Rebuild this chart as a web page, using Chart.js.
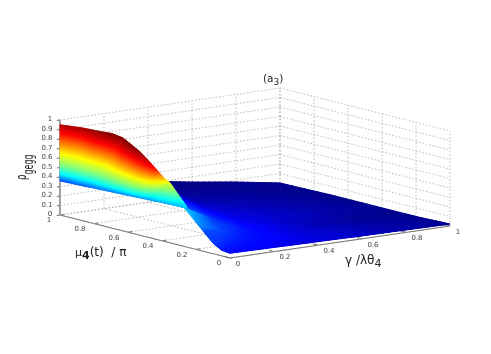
<!DOCTYPE html>
<html>
<head>
<meta charset="utf-8">
<style>
  html, body { margin: 0; padding: 0; background: #fff; }
  canvas { display: block; filter: blur(0.4px); }
</style>
<script src="https://cdn.jsdelivr.net/npm/chart.js@4"></script>
</head>
<body>
<canvas id="surfaceChart" width="491" height="354"></canvas>
<script>
//------------------------------------------------------
// DATA
//------------------------------------------------------
var gammaTicks = [0, 0.2, 0.4, 0.6, 0.8, 1];
var muTicks = [0, 0.2, 0.4, 0.6, 0.8, 1];
var rhoTicks = [0, 0.1, 0.2, 0.3, 0.4, 0.5, 0.6, 0.7, 0.8, 0.9, 1];

// steep front sheet: one rib per mu, from the gamma=0 edge up to the ridge
var sheetMu = [1, 0.931, 0.857, 0.83, 0.796, 0.74, 0.68, 0.62, 0.56, 0.51, 0.465, 0.37, 0.27];
var ridgeGamma = [0, 0.051, 0.085, 0.105, 0.129, 0.122, 0.117, 0.111, 0.1, 0.094, 0.087, 0.054, 0.013];
var ridgeRho = [0.95, 0.93, 0.91, 0.9, 0.86, 0.82, 0.77, 0.7, 0.64, 0.58, 0.55, 0.47, 0.41];
var ridgeShade = [0.95, 0.96, 0.99, 1, 1, 1, 0.98, 0.93, 0.85, 0.72, 0.62, 0.5, 0.41];
var edgeRho = [0.358, 0.363, 0.367, 0.37, 0.374, 0.377, 0.381, 0.385, 0.39, 0.394, 0.397, 0.404, 0.41];

// the low part of the surface
var plateGamma = [0, 0.1, 0.2, 0.3, 0.45, 0.6, 0.8, 1];
var plateMu = [1, 0.7, 0.45, 0.27, 0.18, 0.1, 0.05, 0];
var plateRho = [
  [0.38, 0.38, 0.35, 0.3, 0.2, 0.145, 0.078, 0],
  [0.42, 0.42, 0.4, 0.3, 0.2, 0.12, 0.05, 0.01],
  [0.43, 0.43, 0.3, 0.2, 0.1, 0.04, 0.02, 0.01],
  [0.41, 0.28, 0.14, 0.09, 0.05, 0.03, 0.015, 0.01],
  [0.25, 0.17, 0.1, 0.07, 0.04, 0.03, 0.02, 0.01],
  [0.11, 0.09, 0.07, 0.05, 0.04, 0.03, 0.02, 0.015],
  [0.06, 0.06, 0.055, 0.05, 0.04, 0.03, 0.025, 0.018],
  [0.05, 0.047, 0.044, 0.04, 0.036, 0.03, 0.026, 0.02]
];
var plateShade = [
  [0, 0, 0, 0, 0, 0, 0.01, 0.01],
  [0.1, 0.05, 0.02, 0.01, 0.02, 0.03, 0.025, 0.01],
  [0.3, 0.1, 0.06, 0.08, 0.085, 0.07, 0.04, 0.015],
  [0.42, 0.37, 0.3, 0.14, 0.09, 0.05, 0.02, 0.01],
  [0.39, 0.36, 0.2, 0.13, 0.09, 0.06, 0.03, 0.015],
  [0.33, 0.2, 0.14, 0.125, 0.09, 0.07, 0.035, 0.02],
  [0.18, 0.15, 0.13, 0.11, 0.09, 0.07, 0.04, 0.02],
  [0.13, 0.12, 0.11, 0.1, 0.085, 0.065, 0.04, 0.02]
];

// colour scale (value, r, g, b)
var colorValues = [0, 0.125, 0.36, 0.44, 0.53, 0.65, 0.76, 0.87, 1];
var colorRed = [0, 0, 0, 0, 128, 255, 255, 255, 128];
var colorGreen = [0, 0, 70, 255, 255, 255, 128, 0, 0];
var colorBlue = [130, 255, 255, 255, 128, 0, 0, 0, 0];

//------------------------------------------------------
// VIEW (axonometric camera of the 3D box)
//------------------------------------------------------
function viewPoint(g, m, r) {
  return { x: 230 + 220 * g - 170 * m, y: 258 - 32 * g - 43 * m - 95 * r };
}

function shadeColor(v) {
  var i = 0;
  if (v >= colorValues[colorValues.length - 1]) i = colorValues.length - 2;
  else while (i < colorValues.length - 2 && v > colorValues[i + 1]) i++;
  var t = (v - colorValues[i]) / (colorValues[i + 1] - colorValues[i]);
  t = Math.max(0, Math.min(1, t));
  var c = function (a) { return Math.round(a[i] + (a[i + 1] - a[i]) * t); };
  return 'rgb(' + c(colorRed) + ',' + c(colorGreen) + ',' + c(colorBlue) + ')';
}

function mix(a, b, t) { return a + (b - a) * t; }

//------------------------------------------------------
// BOX: grid and axes as line datasets
//------------------------------------------------------
var gridStyle = { showLine: true, pointRadius: 0, borderColor: '#a8a8a8', borderWidth: 0.8, borderDash: [1.5, 2] };
var axisStyle = { showLine: true, pointRadius: 0, borderColor: '#666', borderWidth: 1 };
var datasets = [];

function addLine(style, from, to) {
  datasets.push(Object.assign({ data: [viewPoint(from[0], from[1], from[2]), viewPoint(to[0], to[1], to[2])] }, style));
}

rhoTicks.forEach(function (r) {
  addLine(gridStyle, [0, 1, r], [1, 1, r]);
  addLine(gridStyle, [1, 1, r], [1, 0, r]);
});
gammaTicks.forEach(function (g) {
  addLine(gridStyle, [g, 1, 0], [g, 1, 1]);
  addLine(gridStyle, [g, 0, 0], [g, 1, 0]);
});
muTicks.forEach(function (m) {
  addLine(gridStyle, [1, m, 0], [1, m, 1]);
  addLine(gridStyle, [0, m, 0], [1, m, 0]);
});

addLine(Object.assign({}, axisStyle, { borderWidth: 1.4, borderColor: '#777' }), [0, 1, 0], [0, 1, 1]);
addLine(axisStyle, [0, 1, 0], [0, 0, 0]);
addLine(axisStyle, [0, 0, 0], [1, 0, 0]);
rhoTicks.forEach(function (r) { addLine(axisStyle, [0, 1, r], [-0.014, 1, r]); });
gammaTicks.forEach(function (g) { addLine(axisStyle, [g, 0, 0], [g, 0.03, 0]); });
muTicks.forEach(function (m) { addLine(axisStyle, [0, m, 0], [0.02, m, 0]); });

//------------------------------------------------------
// SURFACE + TEXT PLUGIN
//------------------------------------------------------
var surfacePlugin = {
  id: 'surface',
  afterDatasetsDraw: function (chart) {
    var ctx = chart.ctx;
    var sx = chart.scales.x, sy = chart.scales.y;
    var toPixel = function (p) { return [sx.getPixelForValue(p.x), sy.getPixelForValue(p.y)]; };

    function quad(a, b, c, d, v) {
      var col = shadeColor(v);
      ctx.fillStyle = col;
      ctx.strokeStyle = col;
      ctx.lineWidth = 1;
      ctx.beginPath();
      ctx.moveTo(a[0], a[1]); ctx.lineTo(b[0], b[1]); ctx.lineTo(c[0], c[1]); ctx.lineTo(d[0], d[1]);
      ctx.closePath();
      ctx.fill();
      ctx.stroke();
    }

    ctx.save();

    // low part, each cell split up so the shading runs smoothly
    var n = 8;
    for (var j = 0; j < plateMu.length - 1; j++) {
      for (var i = 0; i < plateGamma.length - 1; i++) {
        for (var a = 0; a < n; a++) {
          for (var b = 0; b < n; b++) {
            var corner = function (u, w) {
              var g = mix(plateGamma[i], plateGamma[i + 1], u);
              var m = mix(plateMu[j], plateMu[j + 1], w);
              var r = mix(mix(plateRho[j][i], plateRho[j][i + 1], u), mix(plateRho[j + 1][i], plateRho[j + 1][i + 1], u), w);
              return toPixel(viewPoint(g, m, r));
            };
            var u0 = a / n, u1 = (a + 1) / n, w0 = b / n, w1 = (b + 1) / n, um = (u0 + u1) / 2, wm = (w0 + w1) / 2;
            var v = mix(mix(plateShade[j][i], plateShade[j][i + 1], um), mix(plateShade[j + 1][i], plateShade[j + 1][i + 1], um), wm);
            quad(corner(u0, w0), corner(u1, w0), corner(u1, w1), corner(u0, w1), v);
          }
        }
      }
    }

    // steep sheet, rib by rib
    var ribs = 50, along = 4;
    for (var s = 0; s < sheetMu.length - 1; s++) {
      for (var q = 0; q < along; q++) {
        for (var t = 0; t < ribs; t++) {
          var pt = function (qq, tt) {
            var k = qq / along, h = tt / ribs;
            var m = mix(sheetMu[s], sheetMu[s + 1], k);
            var g = mix(ridgeGamma[s], ridgeGamma[s + 1], k) * h;
            var lo = mix(edgeRho[s], edgeRho[s + 1], k);
            var r = mix(lo, mix(ridgeRho[s], ridgeRho[s + 1], k), h);
            var shade = mix(lo, mix(ridgeShade[s], ridgeShade[s + 1], k), h);
            return { p: toPixel(viewPoint(g, m, r)), c: shade };
          };
          var mid = (pt(q, t).c + pt(q + 1, t + 1).c) / 2;
          quad(pt(q, t).p, pt(q + 1, t).p, pt(q + 1, t + 1).p, pt(q, t + 1).p, mid);
        }
      }
    }

    // tick labels
    ctx.fillStyle = '#444';
    ctx.font = '7px "DejaVu Sans"';
    ctx.textAlign = 'center';
    ctx.textBaseline = 'middle';
    var place = function (text, p, dx, dy) {
      var px = toPixel(p);
      ctx.fillText(text, px[0] + dx, px[1] + dy);
    };
    rhoTicks.forEach(function (r) {
      place(String(r), viewPoint(0, 1, r), r === 0 || r === 1 ? -10 : -13, -0.5);
    });
    muTicks.forEach(function (m) {
      place(String(m), viewPoint(0, m, 0), m === 0 || m === 1 ? -11 : -14, 5.5);
    });
    gammaTicks.forEach(function (g) {
      place(String(g), viewPoint(g, 0, 0), g === 0 || g === 1 ? 8 : 11, 6);
    });

    // axis labels and title, written piece by piece for the subscripts
    var pieces = function (x, y, parts) {
      parts.forEach(function (part) {
        ctx.font = part[1];
        ctx.textAlign = 'left';
        ctx.textBaseline = 'alphabetic';
        ctx.fillText(part[0], x, y + part[2]);
        x += ctx.measureText(part[0]).width;
      });
    };
    ctx.fillStyle = '#222';
    pieces(263, 82, [['(a', '10.5px "DejaVu Sans"', 0], ['3', '9px "DejaVu Sans"', 3], [')', '10.5px "DejaVu Sans"', 0]]);
    pieces(75, 256, [['\u03bc', '11px "DejaVu Sans"', 0], ['4', 'bold 11px "DejaVu Sans"', 3], ['(t)  / \u03c0', '12px "DejaVu Sans"', 0]]);
    pieces(345, 264, [['\u03b3 /\u03bb\u03b8', '12px "DejaVu Sans"', 0], ['4', '11px "DejaVu Sans"', 3]]);

    // the rho label is squeezed along its length, as in the picture
    ctx.translate(26, 180);
    ctx.rotate(-Math.PI / 2);
    ctx.scale(0.72, 1.2);
    pieces(0, 0, [['\u03c1', '12px "DejaVu Sans"', 0], ['gegg', '11px "DejaVu Sans"', 6.2]]);
    ctx.restore();
  }
};

//------------------------------------------------------
// CHART
//------------------------------------------------------
var ctx = document.getElementById('surfaceChart').getContext('2d');

var surfaceChart = new Chart(ctx, {
  type: 'scatter',
  data: { datasets: datasets },
  options: {
    responsive: false,
    animation: false,
    layout: { padding: 0 },
    plugins: {
      legend: { display: false },
      tooltip: { enabled: false }
    },
    scales: {
      x: { type: 'linear', display: false, min: 0, max: 491 },
      y: { type: 'linear', display: false, min: 0, max: 354, reverse: true }
    }
  },
  plugins: [surfacePlugin]
});
</script>
</body>
</html>
